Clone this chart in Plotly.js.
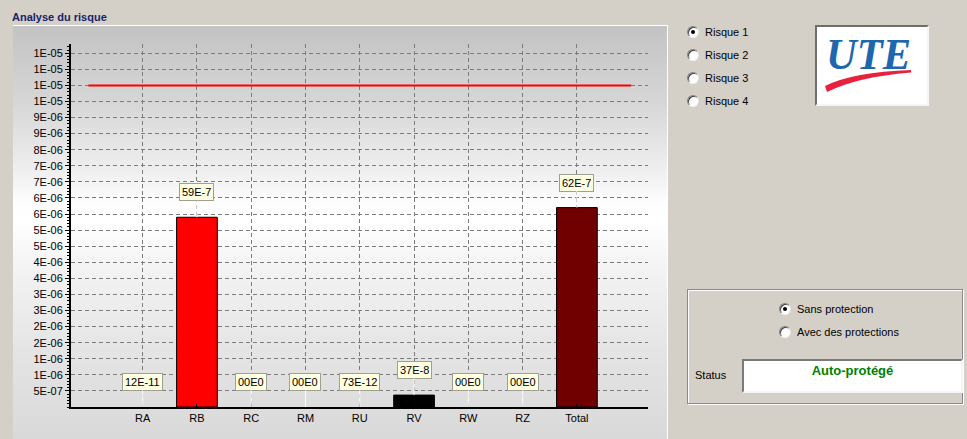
<!DOCTYPE html>
<html>
<head>
<meta charset="utf-8">
<script src="https://cdn.plot.ly/plotly-3.0.1.min.js"></script>
<style>
  html, body { margin:0; padding:0; }
  body { width:967px; height:439px; overflow:hidden; background:#d4d0c8; position:relative;
         font-family:"Liberation Sans", Arial, sans-serif; font-size:11px; color:#000; }
  #panel { position:absolute; left:13px; top:25px; width:654px; height:420px;
           border-top:1px solid #ffffff; border-right:1px solid #ffffff;
           background:linear-gradient(to bottom, #c3c3c3 0%, #d6d6d6 18%, #eeeeee 34%, #fdfdfd 42%, #ffffff 46%, #f3f3f3 58%, #e4e4e4 78%, #d8d8d8 100%); }
  #chart { position:absolute; left:0; top:0; width:967px; height:439px; z-index:2; }
  .radio { position:absolute; width:10px; height:10px; border-radius:50%; background:#fff;
           border:1px solid; border-color:#808080 #e8e8e8 #f4f4f4 #808080;
           box-shadow: inset 1px 1px 0 #404040; z-index:3; }
  .radio.on::after { content:""; position:absolute; left:3px; top:3px; width:4px; height:4px; border-radius:50%; background:#000; }
  .lbl { position:absolute; z-index:3; white-space:nowrap; line-height:13px; }
  #logo { position:absolute; left:815px; top:25px; width:110px; height:77px; background:#fff;
          border:2px solid; border-color:#6e6e6e #f6f6f6 #f6f6f6 #6e6e6e; z-index:3; }
  #group { position:absolute; left:687px; top:289px; width:274px; height:113px;
           border:1px solid #8a8a8a; box-shadow: inset 1px 1px 0 #ffffff, 1px 1px 0 #ffffff; z-index:1; }
  #status { position:absolute; left:742px; top:359px; width:217px; height:30px; background:#fff;
            border:2px solid; border-color:#7a7a7a #f4f4f4 #f4f4f4 #7a7a7a; z-index:3;
            text-align:center; }
  #status span { display:block; margin-top:2px; font-weight:bold; font-size:13px; color:#008000; }
</style>
</head>
<body>
<div id="panel"></div>
<div id="chart"></div>

<!-- risk selector -->
<div class="radio on" style="left:687px; top:26px;"></div><div class="lbl" style="left:705px; top:26px;">Risque 1</div>
<div class="radio" style="left:687px; top:49px;"></div><div class="lbl" style="left:705px; top:49px;">Risque 2</div>
<div class="radio" style="left:687px; top:72px;"></div><div class="lbl" style="left:705px; top:72px;">Risque 3</div>
<div class="radio" style="left:687px; top:95px;"></div><div class="lbl" style="left:705px; top:95px;">Risque 4</div>

<!-- logo -->
<div id="logo">
  <svg width="110" height="77" viewBox="0 0 110 77" xmlns="http://www.w3.org/2000/svg">
    <text x="9" y="42" font-family="Liberation Serif, Times New Roman, serif" font-size="45" font-weight="bold" font-style="italic" fill="#1c67ad" textLength="85" lengthAdjust="spacingAndGlyphs">UTE</text>
    <path d="M 8 59 Q 36 45 94 43 L 94 45.5 Q 40 50 10 65 Z" fill="#e8213f"/>
  </svg>
</div>

<!-- protection group -->
<div id="group"></div>
<div class="radio on" style="left:779px; top:303px;"></div><div class="lbl" style="left:797px; top:303px;">Sans protection</div>
<div class="radio" style="left:779px; top:326px;"></div><div class="lbl" style="left:797px; top:326px;">Avec des protections</div>
<div class="lbl" style="left:695px; top:369px;">Status</div>
<div id="status"><span>Auto-protégé</span></div>

<script>
// ---- data ----
const categories   = ['RA', 'RB', 'RC', 'RM', 'RU', 'RV', 'RW', 'RZ', 'Total'];
const riskValues   = [1.2e-10, 5.9e-6, 0, 0, 7.3e-11, 3.7e-7, 0, 0, 6.2e-6];
const valueLabels  = ['12E-11', '59E-7', '00E0', '00E0', '73E-12', '37E-8', '00E0', '00E0', '62E-7'];
const barColors    = ['#ff0000', '#ff0000', '#ff0000', '#ff0000', '#ff0000', '#000000', '#ff0000', '#ff0000', '#700000'];
const limitValue   = [1e-5];
const yTickValues  = [5e-7, 1e-6, 1.5e-6, 2e-6, 2.5e-6, 3e-6, 3.5e-6, 4e-6, 4.5e-6, 5e-6, 5.5e-6,
                      6e-6, 6.5e-6, 7e-6, 7.5e-6, 8e-6, 8.5e-6, 9e-6, 9.5e-6, 1e-5, 1.05e-5, 1.1e-5];
const yTickLabels  = ['5E-07', '1E-06', '1E-06', '2E-06', '2E-06', '3E-06', '3E-06', '4E-06', '4E-06', '5E-06', '5E-06',
                      '6E-06', '6E-06', '7E-06', '7E-06', '8E-06', '9E-06', '9E-06', '1E-05', '1E-05', '1E-05', '1E-05'];

// ---- chart ----
const FONT = 'Liberation Sans, Arial, sans-serif';
const gridStyle = { gridcolor: '#7c7c7c', gridwidth: 1, griddash: '4px,3px' };

// outline only for bars tall enough to be visible
const outlineWidths = riskValues.map(v => (v > 1e-8 ? 1 : 0));

const traces = [{
  type: 'bar',
  x: categories,
  y: riskValues,
  marker: { color: barColors, line: { color: '#000000', width: outlineWidths } },
  hoverinfo: 'none'
}];

const annotations = categories.map((c, i) => ({
  x: c, y: riskValues[i], xref: 'x', yref: 'y',
  text: valueLabels[i],
  showarrow: true, arrowhead: 0, arrowwidth: 1, arrowcolor: '#ffffff',
  ax: 0, ay: -25, standoff: 0,
  bgcolor: '#ffffe1', bordercolor: '#a09f90', borderwidth: 1, borderpad: 2,
  font: { family: FONT, size: 11, color: '#000000' }
}));

const layout = {
  width: 967, height: 439,
  margin: { l: 71, r: 319, t: 44, b: 32, pad: 0 },
  paper_bgcolor: 'rgba(0,0,0,0)',
  plot_bgcolor: 'rgba(0,0,0,0)',
  showlegend: false,
  bargap: 0.25,
  font: { family: FONT, size: 11, color: '#000000' },
  title: {
    text: '<b>Analyse du risque</b>',
    xref: 'container', yref: 'container',
    x: 12 / 967, xanchor: 'left',
    y: 1 - 17 / 439, yanchor: 'middle',
    font: { family: FONT, size: 11, color: '#14246a' }
  },
  xaxis: Object.assign({
    type: 'category',
    range: [-1.32, 9.31],
    showgrid: true, zeroline: false,
    showline: true, linecolor: '#000000', linewidth: 2,
    ticks: 'inside', ticklen: 3, tickcolor: '#000000', tickwidth: 1,
    tickfont: { family: FONT, size: 11, color: '#000000' },
    fixedrange: true
  }, gridStyle),
  yaxis: Object.assign({
    range: [0, 1.1287e-5],
    tickmode: 'array', tickvals: yTickValues, ticktext: yTickLabels,
    showgrid: true, zeroline: false,
    showline: true, linecolor: '#000000', linewidth: 2,
    ticks: 'outside', ticklen: 4, tickcolor: '#000000', tickwidth: 1,
    minor: { tickmode: 'linear', tick0: 0, dtick: 1e-7, ticks: 'outside', ticklen: 2, tickcolor: '#000000', showgrid: false },
    tickfont: { family: FONT, size: 11, color: '#000000' },
    fixedrange: true
  }, gridStyle),
  shapes: [{
    type: 'line', xref: 'x', yref: 'y',
    x0: -1, x1: categories.length,
    y0: limitValue[0], y1: limitValue[0],
    line: { color: '#ff0000', width: 2 },
    layer: 'above'
  }],
  annotations: annotations
};

Plotly.newPlot('chart', traces, layout, { displayModeBar: false, staticPlot: true });
</script>
</body>
</html>
